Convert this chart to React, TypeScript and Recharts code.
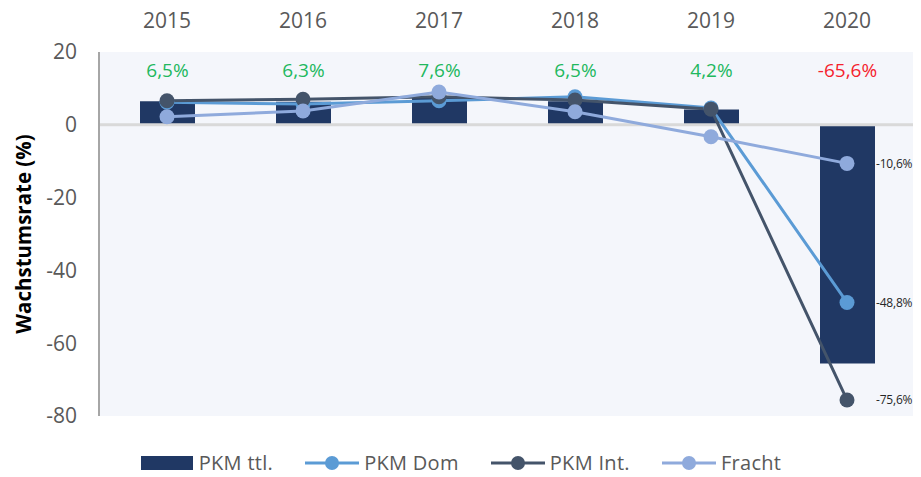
import React from 'react';
import {
  ComposedChart,
  Bar,
  Line,
  XAxis,
  YAxis,
  CartesianGrid,
  ReferenceLine,
  LabelList,
  Label,
} from 'recharts';

const years = ['2015', '2016', '2017', '2018', '2019', '2020'];
const pkmTtl = [6.5, 6.3, 7.6, 6.5, 4.2, -65.6];
const pkmDom = [6.2, 5.7, 6.6, 7.7, 4.6, -48.8];
const pkmInt = [6.6, 7.0, 7.7, 6.8, 4.3, -75.6];
const fracht = [2.2, 3.8, 9.0, 3.6, -3.3, -10.6];
const yTicks = [-80, -60, -40, -20, 0, 20];
const seriesNames = ['PKM ttl.', 'PKM Dom', 'PKM Int.', 'Fracht'];

const data = years.map((y, i) => ({
  year: y,
  ttl: pkmTtl[i],
  dom: pkmDom[i],
  int: pkmInt[i],
  fracht: fracht[i],
}));

const COLORS = {
  ttl: '#203864',
  dom: '#5B9BD5',
  int: '#44546A',
  fracht: '#8FAADC',
};

const FONT = '"Open Sans", sans-serif';
const LABEL_LEVEL = 15;

const fmt = (v: number) => v.toFixed(1).replace('.', ',') + '%';

const TopLabel = (props: any) => {
  const { x, y, width, height, value } = props;
  const top = Math.min(y, y + height);
  const bottom = Math.max(y, y + height);
  const h = bottom - top;
  const ppu = h / Math.abs(value);
  const zeroY = value >= 0 ? bottom : top;
  const ly = zeroY - LABEL_LEVEL * ppu;
  return (
    <text
      x={x + width / 2}
      y={ly}
      textAnchor="middle"
      dominantBaseline="central"
      fontFamily={FONT}
      fontSize={19}
      fill={value >= 0 ? '#22B85E' : '#F5222D'}
    >
      {fmt(value)}
    </text>
  );
};

const EndLabel = (props: any) => {
  const { x, y, value, index } = props;
  if (index !== years.length - 1) return null;
  return (
    <text
      x={x + 29}
      y={y}
      textAnchor="start"
      dominantBaseline="central"
      fontFamily={FONT}
      fontSize={12}
      letterSpacing={-0.2}
      fill="#262626"
    >
      {fmt(value)}
    </text>
  );
};

const YLabel = (props: any) => {
  const { viewBox } = props;
  const cx = viewBox.x + 15;
  const cy = viewBox.y + viewBox.height / 2;
  return (
    <text
      x={cx}
      y={cy}
      transform={`rotate(-90 ${cx} ${cy})`}
      textAnchor="middle"
      dominantBaseline="central"
      fontFamily={FONT}
      fontWeight={700}
      fontSize={20.5}
      fill="#000000"
    >
      Wachstumsrate (%)
    </text>
  );
};

const LegendIcon = ({ type, color }: { type: 'bar' | 'line'; color: string }) => (
  <svg width={54} height={16} style={{ display: 'block' }}>
    {type === 'bar' ? (
      <rect x={1} y={1} width={52} height={14} fill={color} />
    ) : (
      <>
        <line x1={0} y1={8} x2={54} y2={8} stroke={color} strokeWidth={3} />
        <circle cx={27} cy={8} r={7} fill={color} />
      </>
    )}
  </svg>
);

export default function App() {
  const legendItems = [
    { name: seriesNames[0], type: 'bar' as const, color: COLORS.ttl },
    { name: seriesNames[1], type: 'line' as const, color: COLORS.dom },
    { name: seriesNames[2], type: 'line' as const, color: COLORS.int },
    { name: seriesNames[3], type: 'line' as const, color: COLORS.fracht },
  ];
  return (
    <div style={{ position: 'relative', width: 921, height: 477, margin: '-8px 0 0 -8px' }}>
      <ComposedChart
        width={921}
        height={477}
        data={data}
        margin={{ top: 8, right: 6, left: 8, bottom: 61 }}
      >
        <CartesianGrid fill="#F4F6FB" horizontal={false} vertical={false} stroke="none" />
        <XAxis
          dataKey="year"
          orientation="top"
          height={44}
          axisLine={false}
          tickLine={false}
          tickMargin={18}
          tick={{ fill: '#595959', fontSize: 21, fontFamily: FONT }}
        />
        <YAxis
          type="number"
          domain={[-80, 20]}
          ticks={yTicks}
          width={91}
          axisLine={{ stroke: '#A6A6A6', strokeWidth: 2 }}
          tickLine={false}
          tickMargin={16}
          tick={{ fill: '#595959', fontSize: 21, fontFamily: FONT }}
          interval={0}
        >
          <Label content={<YLabel />} />
        </YAxis>
        <Bar dataKey="ttl" fill={COLORS.ttl} barSize={55} isAnimationActive={false}>
          <LabelList dataKey="ttl" content={<TopLabel />} />
        </Bar>
        <ReferenceLine y={0} stroke="#D9D9D9" strokeWidth={3} />
        <Line
          dataKey="dom"
          stroke={COLORS.dom}
          strokeWidth={3}
          dot={{ r: 7.5, fill: COLORS.dom, stroke: COLORS.dom, strokeWidth: 0 }}
          activeDot={false}
          isAnimationActive={false}
        >
          <LabelList dataKey="dom" content={<EndLabel />} />
        </Line>
        <Line
          dataKey="int"
          stroke={COLORS.int}
          strokeWidth={3}
          dot={{ r: 7.5, fill: COLORS.int, stroke: COLORS.int, strokeWidth: 0 }}
          activeDot={false}
          isAnimationActive={false}
        >
          <LabelList dataKey="int" content={<EndLabel />} />
        </Line>
        <Line
          dataKey="fracht"
          stroke={COLORS.fracht}
          strokeWidth={3}
          dot={{ r: 7.5, fill: COLORS.fracht, stroke: COLORS.fracht, strokeWidth: 0 }}
          activeDot={false}
          isAnimationActive={false}
        >
          <LabelList dataKey="fracht" content={<EndLabel />} />
        </Line>
      </ComposedChart>
      <div
        style={{
          position: 'absolute',
          left: 0,
          top: 452,
          width: 921,
          display: 'flex',
          justifyContent: 'center',
          alignItems: 'center',
          gap: 32,
          fontFamily: FONT,
          fontSize: 20,
          letterSpacing: 0.3,
          color: '#595959',
          lineHeight: '22px',
        }}
      >
        {legendItems.map((it) => (
          <div key={it.name} style={{ display: 'flex', alignItems: 'center', gap: 5 }}>
            <LegendIcon type={it.type} color={it.color} />
            <span>{it.name}</span>
          </div>
        ))}
      </div>
    </div>
  );
}
